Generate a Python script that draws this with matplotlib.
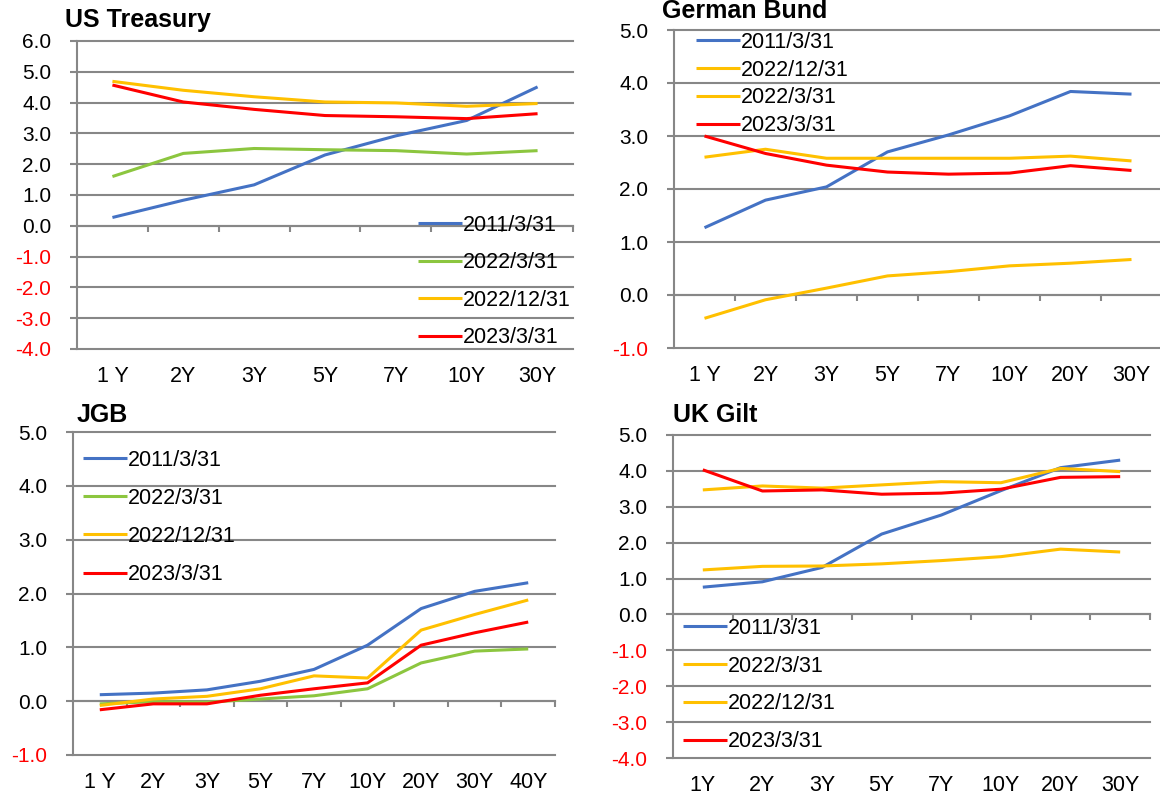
import matplotlib
matplotlib.use("Agg")
import matplotlib.pyplot as plt
from matplotlib.ticker import FormatStrFormatter

plt.rcParams['font.family'] = ['Liberation Sans', 'DejaVu Sans']

W, H = 1160, 795

BLUE = "#4472C4"
GREEN = "#8CC63F"
ORANGE = "#FFC000"
RED = "#FF0000"
GRID = "#878787"

# ---- data ----
us_tenors = ["1 Y", "2Y", "3Y", "5Y", "7Y", "10Y", "30Y"]
us_2011 = [0.27, 0.83, 1.33, 2.30, 2.92, 3.42, 4.51]
us_2022_03 = [1.60, 2.35, 2.51, 2.47, 2.44, 2.33, 2.44]
us_2022_12 = [4.69, 4.40, 4.19, 4.02, 3.99, 3.88, 3.97]
us_2023_03 = [4.57, 4.02, 3.78, 3.58, 3.54, 3.48, 3.64]

de_tenors = ["1 Y", "2Y", "3Y", "5Y", "7Y", "10Y", "20Y", "30Y"]
de_2011 = [1.27, 1.79, 2.04, 2.70, 3.02, 3.38, 3.84, 3.79]
de_2022_12 = [2.60, 2.75, 2.58, 2.58, 2.58, 2.58, 2.62, 2.53]
de_2022_03 = [-0.44, -0.09, 0.13, 0.36, 0.44, 0.55, 0.60, 0.67]
de_2023_03 = [3.00, 2.67, 2.45, 2.32, 2.28, 2.30, 2.44, 2.35]

jp_tenors = ["1 Y", "2Y", "3Y", "5Y", "7Y", "10Y", "20Y", "30Y", "40Y"]
jp_2011 = [0.12, 0.15, 0.21, 0.37, 0.59, 1.04, 1.72, 2.04, 2.20]
jp_2022_03 = [-0.05, -0.01, -0.02, 0.04, 0.10, 0.23, 0.71, 0.93, 0.97]
jp_2022_12 = [-0.08, 0.04, 0.09, 0.23, 0.47, 0.43, 1.32, 1.61, 1.88]
jp_2023_03 = [-0.16, -0.05, -0.05, 0.11, 0.23, 0.34, 1.04, 1.27, 1.47]

uk_tenors = ["1Y", "2Y", "3Y", "5Y", "7Y", "10Y", "20Y", "30Y"]
uk_2011 = [0.76, 0.91, 1.31, 2.24, 2.77, 3.45, 4.09, 4.30]
uk_2022_03 = [1.24, 1.34, 1.35, 1.41, 1.50, 1.61, 1.82, 1.74]
uk_2022_12 = [3.47, 3.58, 3.52, 3.61, 3.70, 3.67, 4.07, 3.98]
uk_2023_03 = [4.03, 3.44, 3.47, 3.35, 3.38, 3.49, 3.82, 3.84]

FS = 15.5
FS_TICK = 15
FS_TITLE = 18
FS_PX = FS * 100 / 72


def make_axes(fig, left, right, top, bottom):
    return fig.add_axes([left / W, 1 - bottom / H, (right - left) / W, (bottom - top) / H])


def style_axes(ax, tenors, ymin, ymax):
    n = len(tenors)
    ax.set_xlim(0, n)
    ax.set_ylim(ymin, ymax)
    ax.set_yticks(range(ymin, ymax + 1))
    ax.yaxis.set_major_formatter(FormatStrFormatter('%.1f'))
    ax.tick_params(axis='y', length=5, width=1.5, color=GRID, pad=13.5, labelsize=FS_TICK)
    for lab, v in zip(ax.get_yticklabels(), range(ymin, ymax + 1)):
        lab.set_color(RED if v < 0 else 'black')
    ax.grid(axis='y', color=GRID, lw=1.5)
    for gl in ax.get_ygridlines():
        gl.set_clip_on(False)
    ax.set_axisbelow(True)
    for s in ['top', 'right']:
        ax.spines[s].set_visible(False)
    ax.spines['left'].set_color(GRID)
    ax.spines['left'].set_linewidth(1.5)
    ax.spines['bottom'].set_position(('data', 0))
    ax.spines['bottom'].set_color(GRID)
    ax.spines['bottom'].set_linewidth(1.5)
    ax.set_xticks(range(1, n + 1))
    ax.tick_params(axis='x', direction='out', length=4, width=1.5, color=GRID,
                   labelbottom=False)
    for i, t in enumerate(tenors):
        ax.annotate(t, xy=(i + 0.5, 0), xycoords=('data', 'axes fraction'),
                    xytext=(0, -19.5), textcoords='offset points',
                    ha='center', va='center', fontsize=FS)


def plot_series(ax, series):
    handles = []
    for vals, color, label in series:
        x = [i + 0.5 for i in range(len(vals))]
        h, = ax.plot(x, vals, color=color, lw=2.2, label=label, zorder=3,
                     clip_on=False, solid_capstyle='butt')
        handles.append(h)
    return handles


def add_legend(fig, ax, handles, left_px, first_row_px, pitch_px):
    spacing = (pitch_px - 0.94 * FS_PX) / FS_PX
    top = first_row_px - 0.47 * FS_PX
    leg = ax.legend(handles=handles, loc='upper left',
                    bbox_to_anchor=(left_px / W, 1 - top / H),
                    bbox_transform=fig.transFigure, frameon=False,
                    fontsize=FS, handlelength=2.05, handletextpad=0.05,
                    labelspacing=spacing, borderpad=0, borderaxespad=0)
    leg.set_zorder(5)


fig = plt.figure(figsize=(W / 100, H / 100), dpi=100)

# US Treasury
ax = make_axes(fig, 77, 573, 41, 349)
style_axes(ax, us_tenors, -4, 6)
hs = plot_series(ax, [(us_2011, BLUE, "2011/3/31"),
                      (us_2022_03, GREEN, "2022/3/31"),
                      (us_2022_12, ORANGE, "2022/12/31"),
                      (us_2023_03, RED, "2023/3/31")])
add_legend(fig, ax, hs, 418, 225, 36.7)
fig.text(65 / W, 1 - 27 / H, "US Treasury", fontsize=FS_TITLE, fontweight='bold', va='baseline')

# German Bund
ax = make_axes(fig, 674, 1162, 30, 348)
style_axes(ax, de_tenors, -1, 5)
hs = plot_series(ax, [(de_2011, BLUE, "2011/3/31"),
                      (de_2022_12, ORANGE, "2022/12/31"),
                      (de_2022_03, ORANGE, "2022/3/31"),
                      (de_2023_03, RED, "2023/3/31")])
add_legend(fig, ax, hs, 696, 42, 27)
fig.text(662 / W, 1 - 18 / H, "German Bund", fontsize=FS_TITLE, fontweight='bold', va='baseline')

# JGB
ax = make_axes(fig, 73, 555, 432, 755)
style_axes(ax, jp_tenors, -1, 5)
hs = plot_series(ax, [(jp_2011, BLUE, "2011/3/31"),
                      (jp_2022_03, GREEN, "2022/3/31"),
                      (jp_2022_12, ORANGE, "2022/12/31"),
                      (jp_2023_03, RED, "2023/3/31")])
add_legend(fig, ax, hs, 83, 460, 37.3)
fig.text(77 / W, 1 - 422 / H, "JGB", fontsize=FS_TITLE, fontweight='bold', va='baseline')

# UK Gilt
ax = make_axes(fig, 673, 1150, 435, 758)
style_axes(ax, uk_tenors, -4, 5)
hs = plot_series(ax, [(uk_2011, BLUE, "2011/3/31"),
                      (uk_2022_03, ORANGE, "2022/3/31"),
                      (uk_2022_12, ORANGE, "2022/12/31"),
                      (uk_2023_03, RED, "2023/3/31")])
add_legend(fig, ax, hs, 683, 628, 37)
fig.text(673 / W, 1 - 422 / H, "UK Gilt", fontsize=FS_TITLE, fontweight='bold', va='baseline')

fig.savefig("out.png", dpi=100)
